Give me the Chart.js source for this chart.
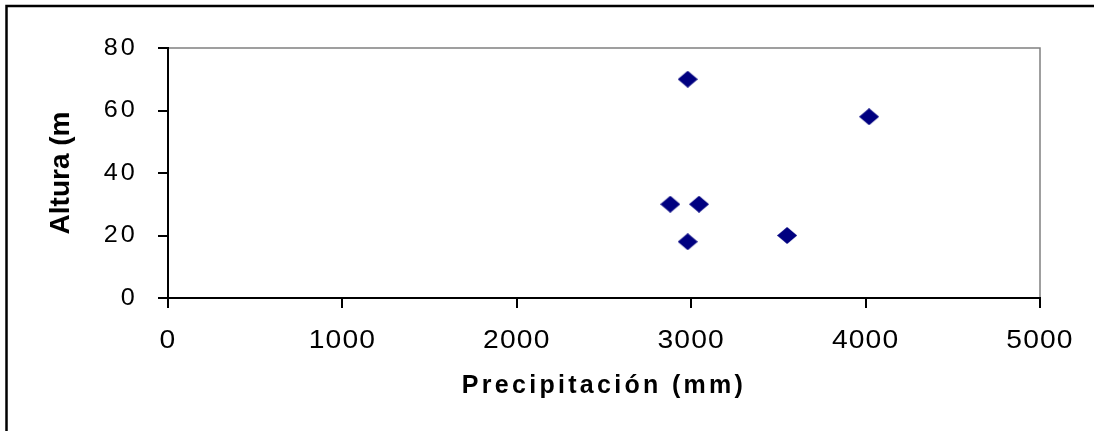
<!DOCTYPE html>
<html>
<head>
<meta charset="utf-8">
<script src="https://cdn.jsdelivr.net/npm/chart.js@4"></script>
<style>
  html, body { margin: 0; padding: 0; background: #fff; }
  canvas { display: block; }
</style>
</head>
<body>
<canvas id="chart" width="1094" height="431"></canvas>
<script>
// values
const precipitacion = [2980, 4020, 2880, 3045, 2980, 3550];
const altura = [70, 58, 30, 30, 18, 20];
const xTicks = [0, 1000, 2000, 3000, 4000, 5000];
const yTicks = [0, 20, 40, 60, 80];

const navy = "#000080";
const fontFamily = "'Liberation Sans', Arial, sans-serif";

// diamond marker, a bit wider than tall
const diamond = document.createElement("canvas");
diamond.width = 20;
diamond.height = 17;
const dctx = diamond.getContext("2d");
dctx.fillStyle = navy;
dctx.beginPath();
dctx.moveTo(10, 0);
dctx.lineTo(20, 8.5);
dctx.lineTo(10, 17);
dctx.lineTo(0, 8.5);
dctx.closePath();
dctx.fill();

// the source text is a little stretched and letter-spaced
function styled(scale, tickSpacing, tickStretch, titleSpacing) {
  if (scale._styled) return;
  scale._styled = true;
  const dl = scale.drawLabels;
  const dt = scale.drawTitle;
  scale.drawLabels = function (area) {
    const ctx = this.ctx;
    const fill = ctx.fillText;
    ctx.letterSpacing = tickSpacing;
    ctx.fillText = function (t, x, y, w) {
      this.save();
      this.translate(x, y);
      this.scale(tickStretch, 1);
      if (w === undefined) fill.call(this, t, 0, 0);
      else fill.call(this, t, 0, 0, w / tickStretch);
      this.restore();
    };
    dl.call(this, area);
    delete ctx.fillText;
    ctx.letterSpacing = "0px";
  };
  scale.drawTitle = function () {
    this.ctx.letterSpacing = titleSpacing;
    dt.call(this);
    this.ctx.letterSpacing = "0px";
  };
}

const frame = {
  id: "frame",
  beforeDraw(chart) {
    const { ctx, chartArea: a } = chart;
    ctx.save();
    ctx.fillStyle = "#fff";
    ctx.fillRect(0, 0, chart.width, chart.height);
    // outer border
    ctx.strokeStyle = "#000";
    ctx.lineWidth = 2.5;
    ctx.beginPath();
    ctx.moveTo(6.5, chart.height);
    ctx.lineTo(6.5, 6);
    ctx.lineTo(chart.width, 6);
    ctx.stroke();
    // plot area border (top / right)
    ctx.strokeStyle = "#808080";
    ctx.lineWidth = 1.5;
    ctx.beginPath();
    ctx.moveTo(a.left, a.top);
    ctx.lineTo(a.right, a.top);
    ctx.lineTo(a.right, a.bottom);
    ctx.stroke();
    ctx.restore();
  },
};

new Chart(document.getElementById("chart"), {
  type: "scatter",
  data: {
    datasets: [
      {
        data: precipitacion.map((x, i) => ({ x: x, y: altura[i] })),
        pointStyle: diamond,
        pointRadius: 10,
        pointHoverRadius: 10,
        backgroundColor: navy,
        borderColor: navy,
      },
    ],
  },
  options: {
    responsive: false,
    animation: false,
    layout: { padding: { left: 0, top: 48, right: 54, bottom: 0 } },
    plugins: { legend: { display: false }, tooltip: { enabled: false } },
    scales: {
      x: {
        type: "linear",
        min: xTicks[0],
        max: xTicks[xTicks.length - 1],
        afterBuildTicks: (s) => { s.ticks = xTicks.map((v) => ({ value: v })); },
        afterFit: (s) => { s.height = 133; styled(s, "1px", 1.13, "3.3px"); },
        grid: { drawOnChartArea: false, tickLength: 10, color: "#000", lineWidth: 2 },
        border: { color: "#000", width: 2 },
        ticks: {
          padding: 18,
          color: "#000",
          maxRotation: 0,
          callback: (v) => String(v),
          font: { family: fontFamily, size: 25, lineHeight: 1.2 },
        },
        title: {
          display: true,
          text: "Precipitación (mm)",
          color: "#000",
          padding: { top: 0, bottom: 30 },
          font: { family: fontFamily, size: 25, weight: "bold", lineHeight: 1.2 },
        },
      },
      y: {
        type: "linear",
        min: yTicks[0],
        max: yTicks[yTicks.length - 1],
        afterBuildTicks: (s) => { s.ticks = yTicks.map((v) => ({ value: v })); },
        afterFit: (s) => { s.width = 168; styled(s, "3px", 1.05, "0px"); },
        grid: { drawOnChartArea: false, tickLength: 10, color: "#000", lineWidth: 2 },
        border: { color: "#000", width: 2 },
        ticks: {
          padding: 20,
          color: "#000",
          callback: (v) => String(v),
          font: { family: fontFamily, size: 24, lineHeight: 1.2 },
        },
        title: {
          display: true,
          text: "Altura (m",
          color: "#000",
          padding: { top: 44, bottom: 0 },
          font: { family: fontFamily, size: 28, weight: "bold", lineHeight: 1.2 },
        },
      },
    },
  },
  plugins: [frame],
});
</script>
</body>
</html>
